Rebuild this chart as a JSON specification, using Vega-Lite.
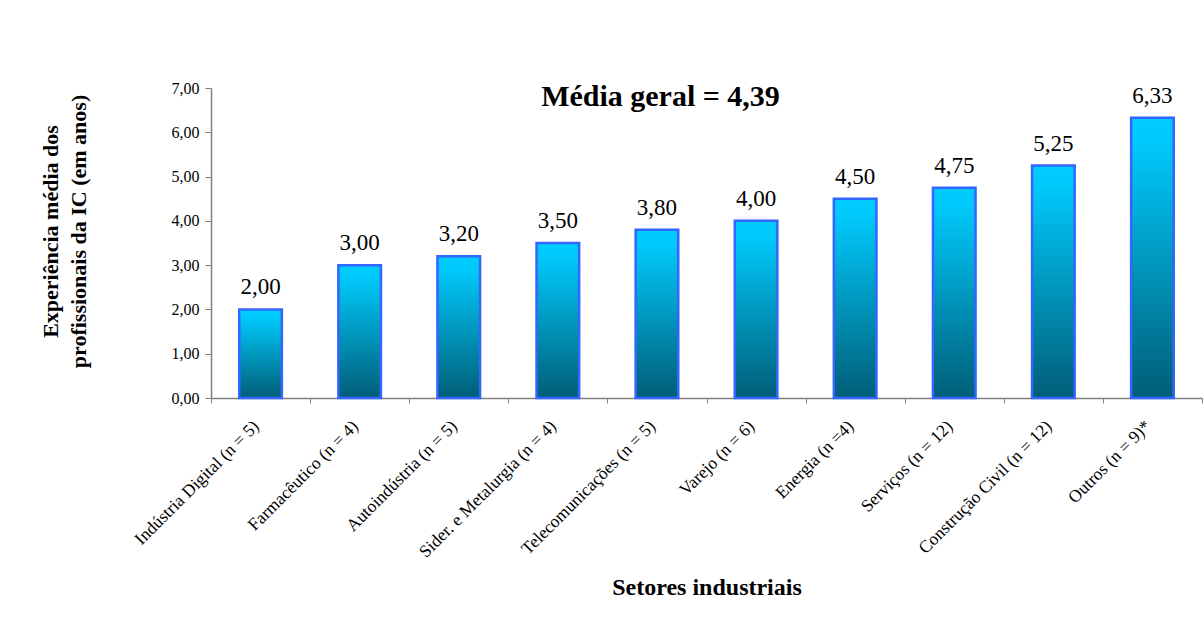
{
  "$schema": "https://vega.github.io/schema/vega-lite/v6.json",
  "autosize": {"type": "none"},
  "width": 991,
  "height": 310,
  "padding": {"left": 211, "top": 88, "right": 2, "bottom": 228},
  "background": "white",
  "config": {
    "locale": {"number": {"decimal": ",", "thousands": ".", "grouping": [3], "currency": ["R$", ""]}},
    "font": "Liberation Serif",
    "view": {"stroke": null}
  },
  "title": {
    "text": "Média geral = 4,39",
    "font": "Liberation Serif",
    "fontSize": 30,
    "fontWeight": "bold",
    "color": "black",
    "anchor": "middle",
    "orient": "top",
    "frame": "group",
    "baseline": "alphabetic",
    "offset": 0,
    "dx": -46,
    "dy": 56
  },
  "data": {
    "values": [
      {"setor": "Indústria Digital (n = 5)", "valor": 2.00},
      {"setor": "Farmacêutico (n = 4)", "valor": 3.00},
      {"setor": "Autoindústria (n = 5)", "valor": 3.20},
      {"setor": "Sider. e Metalurgia (n = 4)", "valor": 3.50},
      {"setor": "Telecomunicações (n = 5)", "valor": 3.80},
      {"setor": "Varejo (n = 6)", "valor": 4.00},
      {"setor": "Energia (n =4)", "valor": 4.50},
      {"setor": "Serviços (n = 12)", "valor": 4.75},
      {"setor": "Construção Civil (n = 12)", "valor": 5.25},
      {"setor": "Outros (n = 9)*", "valor": 6.33}
    ]
  },
  "encoding": {
    "x": {
      "field": "setor",
      "type": "nominal",
      "sort": null,
      "scale": {"paddingInner": 0, "paddingOuter": 0},
      "axis": {
        "title": "Setores industriais",
        "titleFont": "Liberation Serif",
        "titleFontSize": 24,
        "titleFontWeight": "bold",
        "titleColor": "black",
        "titleBaseline": "alphabetic",
        "titleY": 196,
        "labelAngle": -45,
        "labelAlign": "right",
        "labelBaseline": "top",
        "labelFont": "Liberation Serif",
        "labelFontSize": 17.5,
        "labelColor": "black",
        "labelPadding": 14,
        "labelOffset": -11,
        "labelLimit": 400,
        "tickBand": "extent",
        "tickSize": 5,
        "tickColor": "#808080",
        "domainColor": "#808080",
        "domainWidth": 1.5,
        "grid": false
      }
    },
    "y": {
      "field": "valor",
      "type": "quantitative",
      "scale": {"domain": [0, 7], "nice": false},
      "axis": {
        "values": [0, 1, 2, 3, 4, 5, 6, 7],
        "format": ".2f",
        "labelFont": "Liberation Serif",
        "labelFontSize": 16,
        "labelColor": "black",
        "labelPadding": 6,
        "tickSize": 6,
        "tickColor": "#808080",
        "domainColor": "#808080",
        "domainWidth": 1.5,
        "grid": false,
        "title": ["Experiência média dos", "profissionais da IC (em anos)"],
        "titleFont": "Liberation Serif",
        "titleFontSize": 22,
        "titleFontWeight": "bold",
        "titleColor": "black",
        "titleLineHeight": 28,
        "titleAngle": -90,
        "titleAlign": "center",
        "titleBaseline": "bottom",
        "titleX": -149,
        "titleY": 143
      }
    }
  },
  "layer": [
    {
      "mark": {
        "type": "bar",
        "width": {"band": 0.43},
        "fill": {
          "gradient": "linear",
          "x1": 0, "y1": 0, "x2": 0, "y2": 1,
          "stops": [
            {"offset": 0, "color": "#00CCFF"},
            {"offset": 0.08, "color": "#00CAFC"},
            {"offset": 1, "color": "#005E78"}
          ]
        },
        "stroke": "#3366FF",
        "strokeWidth": 2.5
      }
    },
    {
      "mark": {
        "type": "text",
        "font": "Liberation Serif",
        "fontSize": 23,
        "color": "black",
        "baseline": "alphabetic",
        "align": "center",
        "dy": -15
      },
      "encoding": {
        "text": {"field": "valor", "type": "quantitative", "format": ".2f"}
      }
    }
  ]
}
